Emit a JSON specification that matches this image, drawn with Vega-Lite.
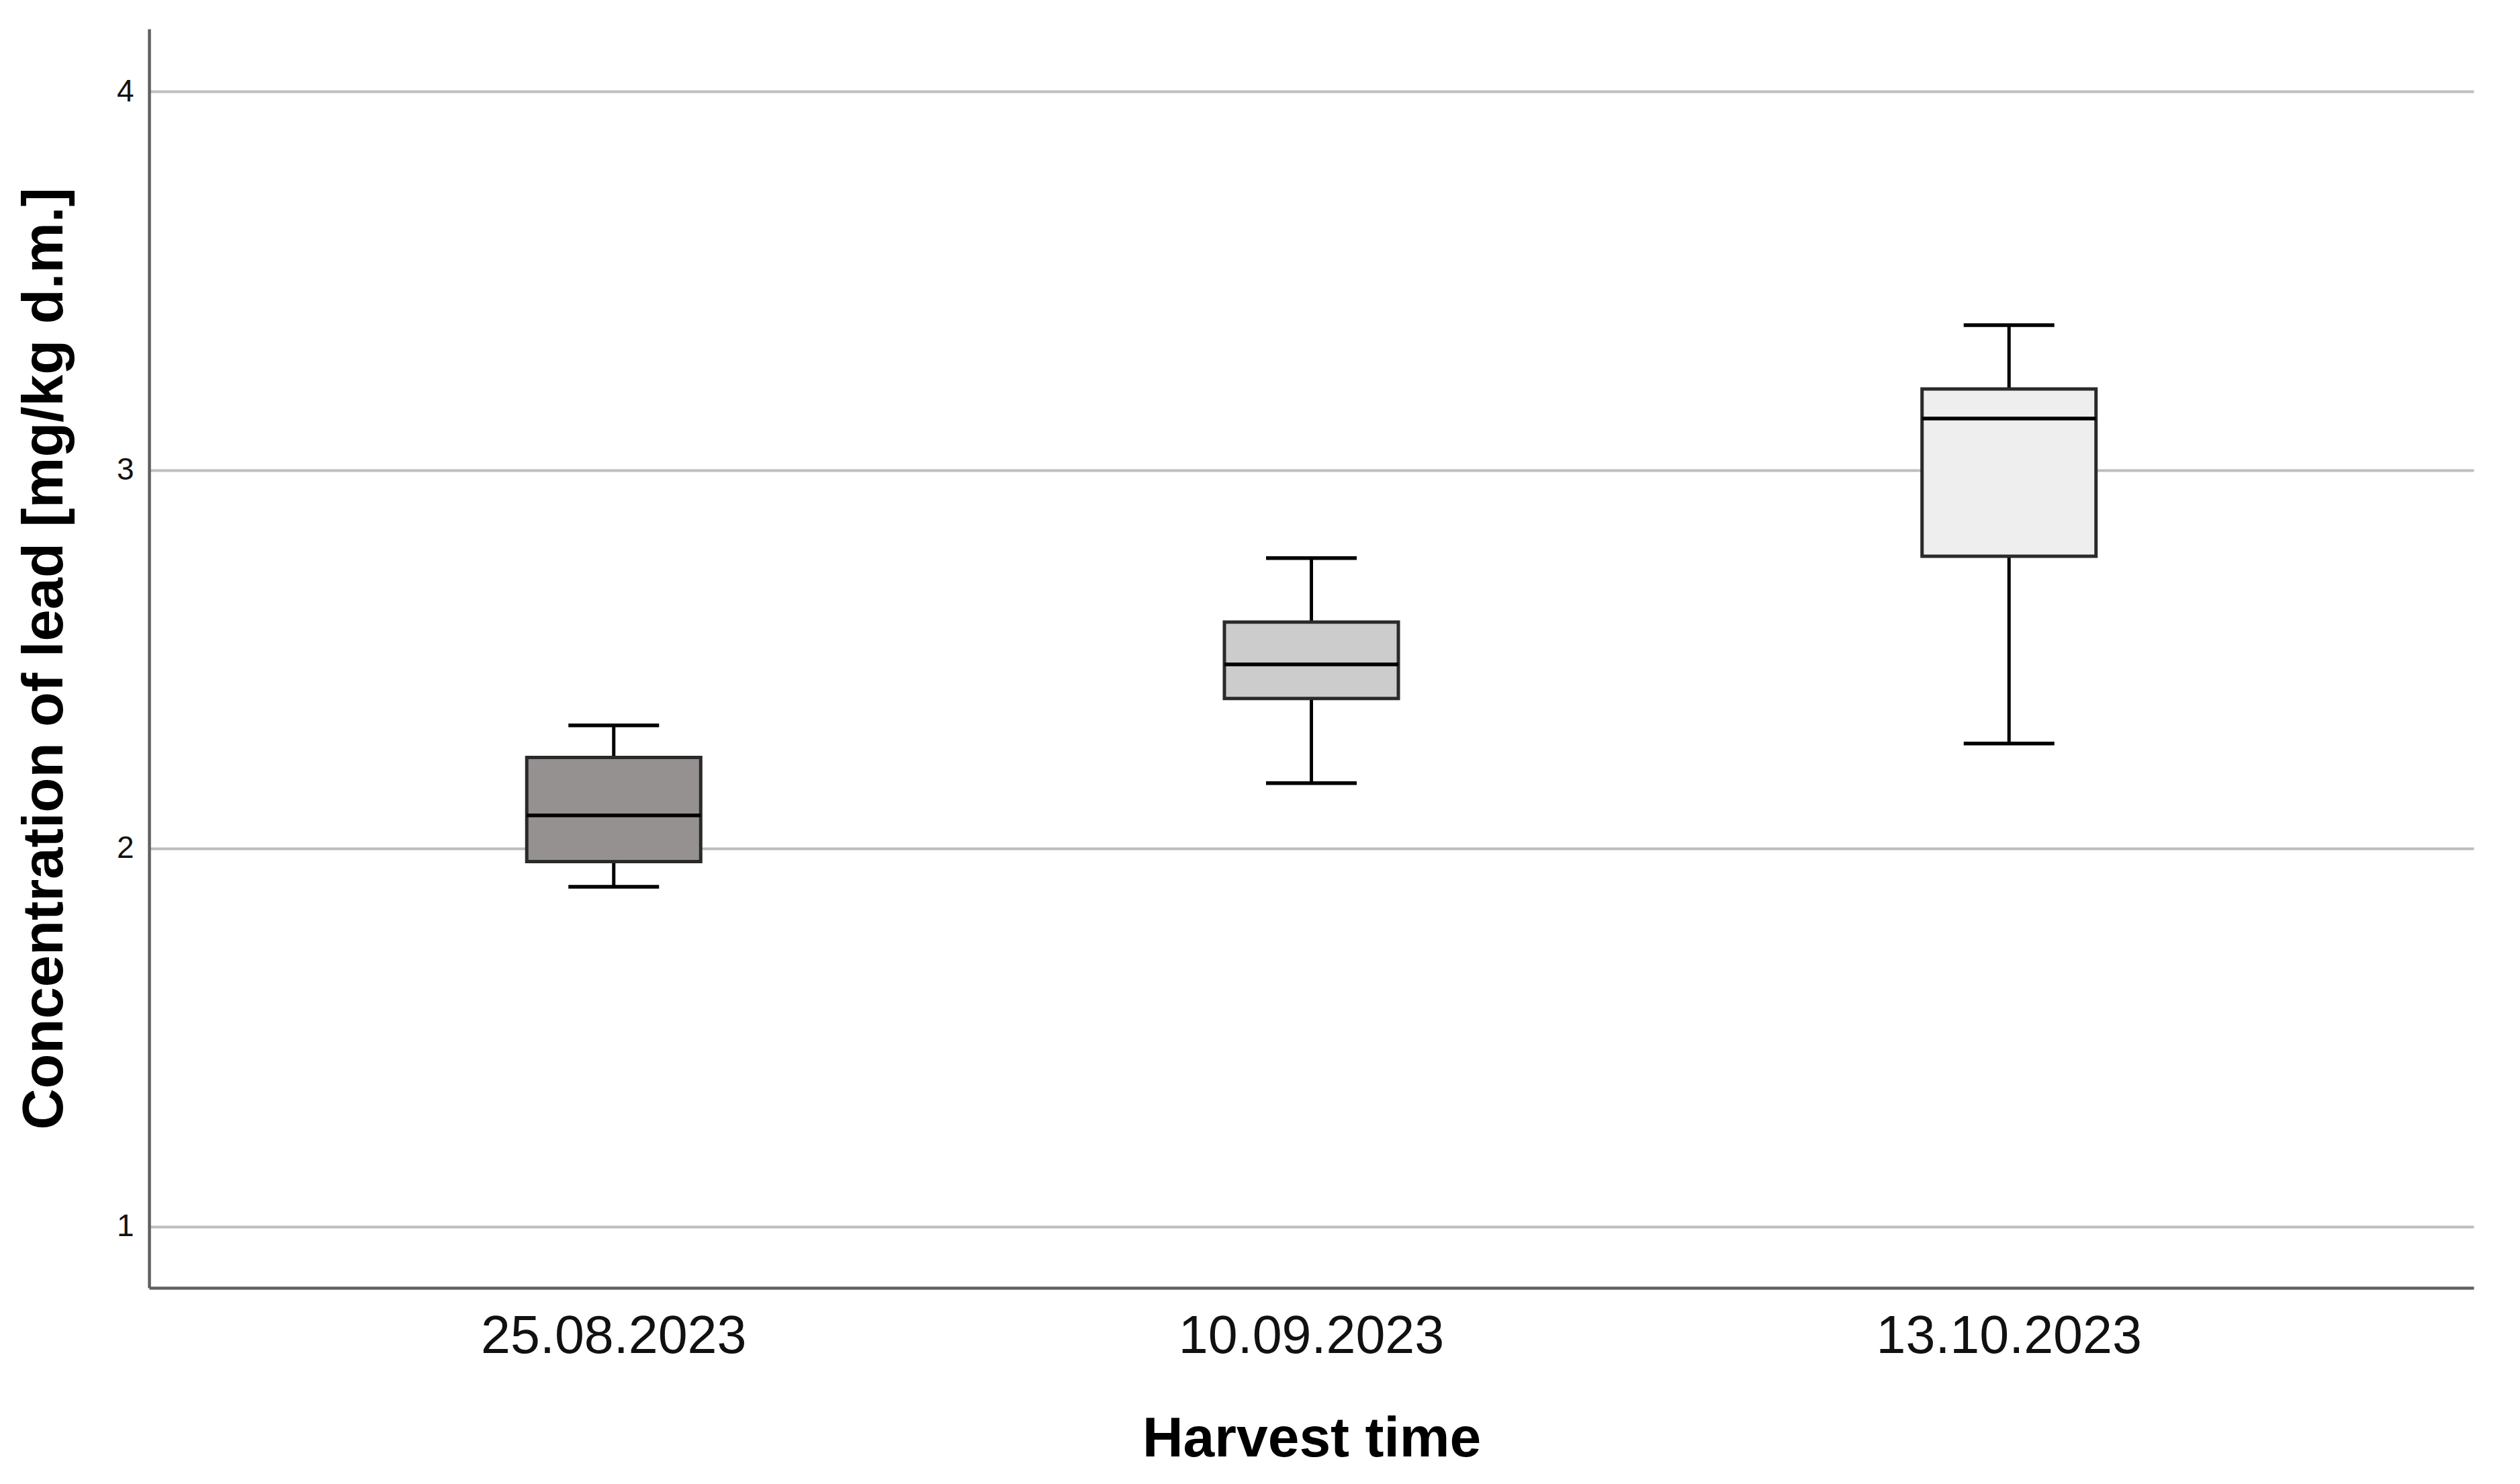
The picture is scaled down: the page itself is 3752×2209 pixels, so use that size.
{
  "$schema": "https://vega.github.io/schema/vega-lite/v6.json",
  "width": 3461,
  "height": 1874,
  "autosize": {"type": "none"},
  "padding": {"left": 222, "top": 43, "right": 69, "bottom": 292},
  "background": "white",
  "config": {
    "view": {"stroke": null},
    "font": "Liberation Sans"
  },
  "data": {
    "values": [
      {"date": "25.08.2023", "lower": 1.898, "q1": 1.965, "median": 2.087, "q3": 2.240, "upper": 2.325},
      {"date": "10.09.2023", "lower": 2.172, "q1": 2.396, "median": 2.486, "q3": 2.598, "upper": 2.767},
      {"date": "13.10.2023", "lower": 2.277, "q1": 2.772, "median": 3.136, "q3": 3.214, "upper": 3.383}
    ]
  },
  "encoding": {
    "x": {
      "field": "date",
      "type": "nominal",
      "sort": null,
      "scale": {"domain": ["25.08.2023", "10.09.2023", "13.10.2023"], "paddingInner": 0, "paddingOuter": 0.166},
      "axis": {
        "title": "Harvest time",
        "titleFont": "Liberation Sans",
        "titleFontSize": 84,
        "titleFontWeight": "bold",
        "titleColor": "#000000",
        "titlePadding": 72,
        "labelFont": "Liberation Sans",
        "labelFontSize": 79,
        "labelColor": "#111111",
        "labelAngle": 0,
        "labelLimit": 0,
        "labelPadding": 34,
        "ticks": false,
        "tickSize": 0,
        "domainColor": "#606060",
        "domainWidth": 4.5,
        "grid": false
      }
    }
  },
  "layer": [
    {
      "mark": {"type": "rule", "color": "#000000", "strokeWidth": 5},
      "encoding": {
        "y": {
          "field": "lower",
          "type": "quantitative",
          "scale": {"domain": [0.838, 4.166], "nice": false, "zero": false},
          "axis": {
            "title": "Concentration of lead [mg/kg d.m.]",
            "titleFont": "Liberation Sans",
            "titleFontSize": 85,
            "titleFontWeight": "bold",
            "titleColor": "#000000",
            "titlePadding": 63,
            "values": [1, 2, 3, 4],
            "format": "d",
            "labelFont": "Liberation Sans",
            "labelFontSize": 46,
            "labelColor": "#111111",
            "labelPadding": 23,
            "ticks": false,
            "tickSize": 0,
            "domainColor": "#606060",
            "domainWidth": 4.5,
            "grid": true,
            "gridColor": "#bdbdbd",
            "gridWidth": 4
          }
        },
        "y2": {"field": "upper"}
      }
    },
    {
      "mark": {"type": "bar", "size": 259, "stroke": "#2a2a2a", "strokeWidth": 5},
      "encoding": {
        "y": {"field": "q1", "type": "quantitative"},
        "y2": {"field": "q3"},
        "fill": {
          "field": "date",
          "type": "nominal",
          "scale": {"domain": ["25.08.2023", "10.09.2023", "13.10.2023"], "range": ["#959190", "#cccccc", "#eeeeee"]},
          "legend": null
        }
      }
    },
    {
      "mark": {"type": "tick", "size": 259, "thickness": 5.5, "color": "#000000", "opacity": 1},
      "encoding": {"y": {"field": "median", "type": "quantitative"}}
    },
    {
      "mark": {"type": "tick", "size": 135, "thickness": 5.5, "color": "#000000", "opacity": 1},
      "encoding": {"y": {"field": "lower", "type": "quantitative"}}
    },
    {
      "mark": {"type": "tick", "size": 135, "thickness": 5.5, "color": "#000000", "opacity": 1},
      "encoding": {"y": {"field": "upper", "type": "quantitative"}}
    }
  ]
}
